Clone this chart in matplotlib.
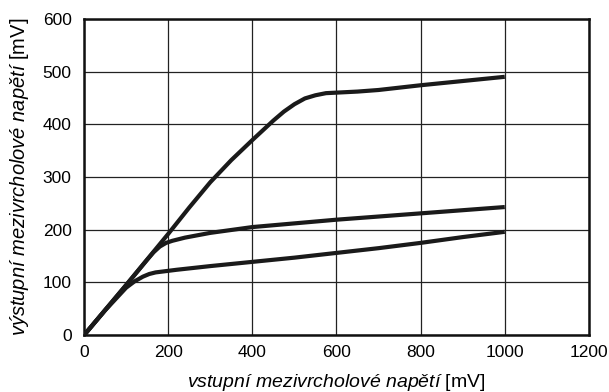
import matplotlib
matplotlib.use("Agg")
import matplotlib.pyplot as plt

plt.rcParams['font.family'] = 'Liberation Sans'
plt.rcParams['mathtext.fontset'] = 'custom'
plt.rcParams['mathtext.it'] = 'Liberation Sans:italic'
plt.rcParams['mathtext.rm'] = 'Liberation Sans'

# values (mV)
top_x = [0, 100, 200, 250, 300, 350, 400, 450, 475, 500, 525, 550, 575, 600, 650, 700, 800, 900, 1000]
top_y = [0, 95, 192, 242, 290, 332, 370, 407, 424, 438, 449, 455, 459, 460, 462, 465, 474, 482, 490]

mid_x = [0, 100, 150, 165, 180, 195, 210, 240, 300, 400, 500, 600, 700, 800, 900, 1000]
mid_y = [0, 95, 143, 157, 168, 175, 179, 185, 194, 205, 212, 219, 225, 231, 237, 243]

low_x = [0, 50, 100, 120, 140, 155, 170, 190, 220, 300, 400, 500, 600, 700, 800, 900, 1000]
low_y = [0, 47, 90, 102, 111, 116, 119, 121, 124, 131, 139, 147, 156, 165, 175, 186, 196]

xticks = [0, 200, 400, 600, 800, 1000, 1200]
yticks = [0, 100, 200, 300, 400, 500, 600]

fig = plt.figure(figsize=(6.09, 3.92), dpi=100)
ax = fig.add_axes([0.138, 0.145, 0.829, 0.807])

for xs, ys in [(top_x, top_y), (mid_x, mid_y), (low_x, low_y)]:
    ax.plot(xs, ys, color='#1a1a1a', lw=3.0, solid_capstyle='butt',
            solid_joinstyle='round', zorder=3)

ax.set_xlim(0, 1200)
ax.set_ylim(0, 600)
ax.set_xticks(xticks)
ax.set_yticks(yticks)
ax.tick_params(length=0, labelsize=12.5, colors='black')
ax.tick_params(axis='y', pad=9)
ax.tick_params(axis='x', pad=7)
ax.grid(True, color='#222222', lw=0.9)
for s in ax.spines.values():
    s.set_linewidth(1.8)
    s.set_color('#111111')

ax.set_xlabel(r'$\mathit{vstupní\ mezivrcholové\ napětí}$ [mV]', fontsize=14, labelpad=9)
ax.set_ylabel(r'$\mathit{výstupní\ mezivrcholové\ napětí}$ [mV]', fontsize=14.5, labelpad=8)

fig.savefig('out.png', dpi=100)
